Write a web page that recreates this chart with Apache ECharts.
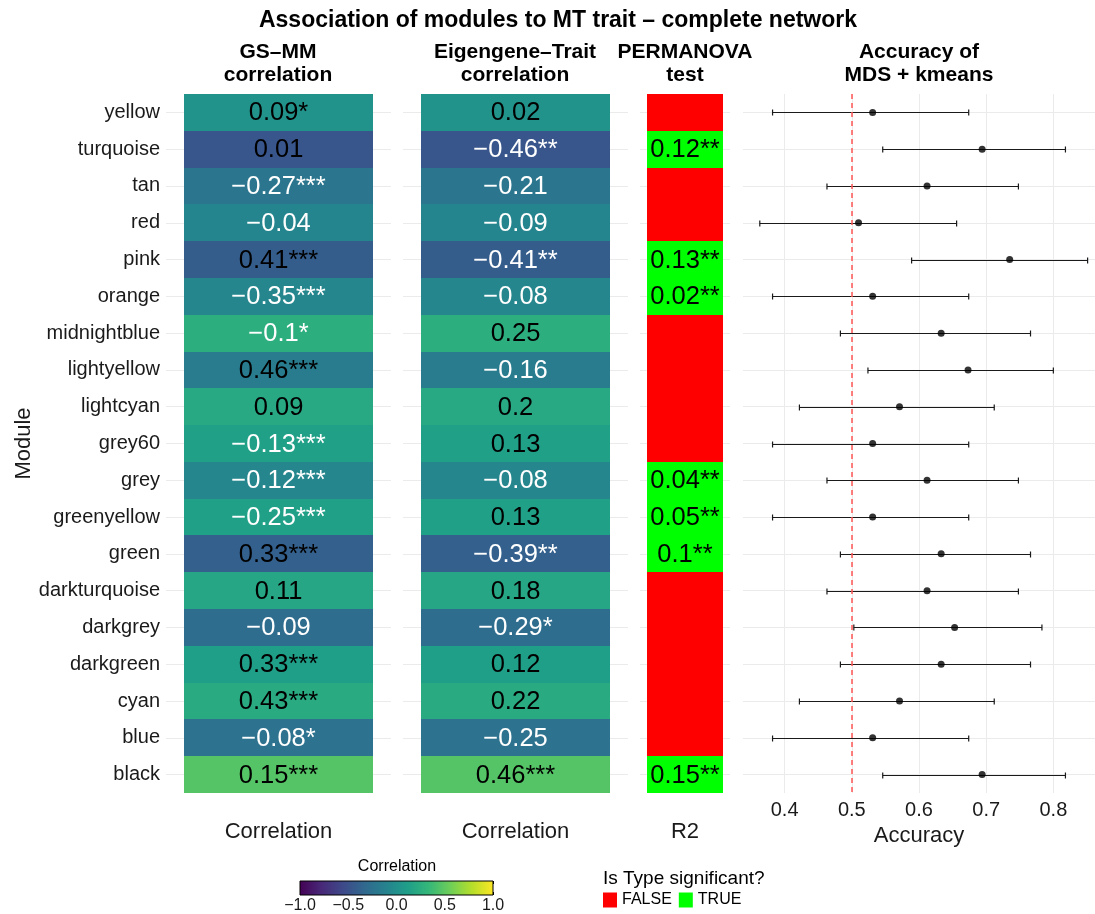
<!DOCTYPE html>
<html>
<head>
<meta charset="utf-8">
<title>Association of modules to MT trait</title>
<script src="https://cdn.jsdelivr.net/npm/echarts@6/dist/echarts.min.js"></script>
<style>
	html, body { margin: 0; padding: 0; background: #fff; }
	#chart { width: 1095px; height: 914px; }
</style>
</head>
<body>
<div id="chart"></div>
<script>
// 数据 (top row first)
var modules = ['yellow', 'turquoise', 'tan', 'red', 'pink', 'orange', 'midnightblue', 'lightyellow', 'lightcyan', 'grey60', 'grey', 'greenyellow', 'green', 'darkturquoise', 'darkgrey', 'darkgreen', 'cyan', 'blue', 'black']
var gsmmCor = [0.09, 0.01, -0.27, -0.04, 0.41, -0.35, -0.1, 0.46, 0.09, -0.13, -0.12, -0.25, 0.33, 0.11, -0.09, 0.33, 0.43, -0.08, 0.15]
var gsmmStars = ['*', '', '***', '', '***', '***', '*', '***', '', '***', '***', '***', '***', '', '', '***', '***', '*', '***']
var etCor = [0.02, -0.46, -0.21, -0.09, -0.41, -0.08, 0.25, -0.16, 0.2, 0.13, -0.08, 0.13, -0.39, 0.18, -0.29, 0.12, 0.22, -0.25, 0.46]
var etStars = ['', '**', '', '', '**', '', '', '', '', '', '', '', '**', '', '*', '', '', '', '***']
var permSig = [false, true, false, false, true, true, false, false, false, false, true, true, true, false, false, false, false, false, true]
var permR2 = [null, 0.12, null, null, 0.13, 0.02, null, null, null, null, 0.04, 0.05, 0.1, null, null, null, null, null, 0.15]
var permStars = ['', '**', '', '', '**', '**', '', '', '', '', '**', '**', '**', '', '', '', '', '', '**']
var accMean = [0.531, 0.694, 0.612, 0.510, 0.735, 0.531, 0.633, 0.673, 0.571, 0.531, 0.612, 0.531, 0.633, 0.612, 0.653, 0.633, 0.571, 0.531, 0.694]
var accLow = [0.382, 0.546, 0.463, 0.363, 0.589, 0.382, 0.483, 0.524, 0.422, 0.382, 0.463, 0.382, 0.483, 0.463, 0.503, 0.483, 0.422, 0.382, 0.546]
var accHigh = [0.674, 0.818, 0.748, 0.656, 0.851, 0.674, 0.766, 0.800, 0.712, 0.674, 0.748, 0.674, 0.766, 0.748, 0.783, 0.766, 0.712, 0.674, 0.818]
var chanceLevel = 0.5
var corRange = [-1, 1]
var sigLevels = ['FALSE', 'TRUE']

var FONT = '"Liberation Sans", Arial, Helvetica, sans-serif'
var viridis = ['#440154', '#482878', '#3e4989', '#31688e', '#26828e', '#1f9e89', '#35b779', '#6ece58', '#b5de2b', '#fde725']
var GRID_TOP = 94, GRID_H = 699

function fmt(v) {
	return (v < 0 ? '\u2212' : '') + Math.abs(v)
}

// integer-edged tile so neighbours meet without seams
function tileRect(api, fill) {
	var c = api.coord([api.value(0), api.value(1)])
	var band = api.size([1, 1])
	var w = band[0] * 0.84
	var x0 = Math.round(c[0] - w / 2), x1 = Math.round(c[0] + w / 2)
	var y0 = Math.round(c[1] - band[1] / 2), y1 = Math.round(c[1] + band[1] / 2)
	return {
		center: c,
		el: { type: 'rect', shape: { x: x0, y: y0, width: x1 - x0, height: y1 - y0 }, style: { fill: fill } }
	}
}

function tileText(c, text, color) {
	return {
		type: 'text',
		style: {
			x: c[0], y: c[1] + 1, text: text, fill: color,
			font: '25.5px ' + FONT, align: 'center', verticalAlign: 'middle'
		}
	}
}

function corRenderer(values, stars) {
	return function (params, api) {
		var i = params.dataIndex
		var t = tileRect(api, api.visual('color'))
		var v = values[i]
		return { type: 'group', children: [t.el, tileText(t.center, fmt(v) + stars[i], v < 0 ? '#fff' : '#000')] }
	}
}

function catY(idx, showLabels) {
	return {
		type: 'category', gridIndex: idx, data: modules, inverse: true,
		axisLine: { show: false }, axisTick: { show: false },
		axisLabel: { show: showLabels, fontSize: 20, color: '#1a1a1a', fontFamily: FONT, margin: 6 },
		splitLine: { show: true, alignWithLabel: true, lineStyle: { color: '#ebebeb', width: 1 } }
	}
}

function catX(idx, name) {
	return {
		type: 'category', gridIndex: idx, data: [name],
		axisLine: { show: false }, axisTick: { show: false }, axisLabel: { show: false },
		splitLine: { show: false },
		name: name, nameLocation: 'middle', nameGap: 28,
		nameTextStyle: { fontSize: 22, color: '#1a1a1a', fontFamily: FONT }
	}
}

var panelTitle = { fontSize: 21, fontWeight: 'bold', color: '#000', fontFamily: FONT, lineHeight: 23 }

var option = {
	animation: false,
	backgroundColor: '#fff',
	title: [
		{ text: 'Association of modules to MT trait \u2013 complete network', left: 558, top: 9, padding: 0, textAlign: 'center', textStyle: { fontSize: 23, fontWeight: 'bold', color: '#000', fontFamily: FONT } },
		{ text: 'GS\u2013MM\ncorrelation', left: 278, top: 41, padding: 0, textAlign: 'center', textStyle: panelTitle },
		{ text: 'Eigengene\u2013Trait\ncorrelation', left: 515, top: 41, padding: 0, textAlign: 'center', textStyle: panelTitle },
		{ text: 'PERMANOVA\ntest', left: 685, top: 41, padding: 0, textAlign: 'center', textStyle: panelTitle },
		{ text: 'Accuracy of\nMDS + kmeans', left: 919, top: 41, padding: 0, textAlign: 'center', textStyle: panelTitle },
		{ text: 'Correlation', left: 397, top: 859, padding: 0, textAlign: 'center', textStyle: { fontSize: 16, fontWeight: 'normal', color: '#000', fontFamily: FONT } },
		{ text: 'Is Type significant?', left: 603, top: 869, padding: 0, textStyle: { fontSize: 19, fontWeight: 'normal', color: '#000', fontFamily: FONT } }
	],
	legend: {
		data: sigLevels, left: 603, top: 892, padding: 0,
		icon: 'rect', itemWidth: 14, itemHeight: 15, itemGap: 7,
		textStyle: { fontSize: 16, color: '#000', fontFamily: FONT },
		selectedMode: false
	},
	visualMap: {
		type: 'continuous', show: false, min: corRange[0], max: corRange[1],
		dimension: 2, seriesIndex: [0, 1],
		inRange: { color: viridis }
	},
	grid: [
		{ left: 166, top: GRID_TOP, width: 225, height: GRID_H },
		{ left: 403, top: GRID_TOP, width: 225, height: GRID_H },
		{ left: 640, top: GRID_TOP, width: 90, height: GRID_H },
		{ left: 743, top: GRID_TOP, width: 352, height: GRID_H },
		{ left: 300, top: 881, width: 193, height: 16 }
	],
	xAxis: [
		catX(0, 'Correlation'),
		catX(1, 'Correlation'),
		catX(2, 'R2'),
		{
			type: 'value', gridIndex: 3, min: 0.338, max: 0.862,
			axisLine: { show: false }, axisTick: { show: false },
			axisLabel: {
				fontSize: 20, color: '#1a1a1a', fontFamily: FONT, margin: 7,
				showMinLabel: false, showMaxLabel: false,
				formatter: function (v) {
					var t = Math.round(v * 100)
					return (t % 10 === 0) ? (t / 100).toFixed(1) : ''
				}
			},
			splitLine: { show: true, showMinLine: false, showMaxLine: false, lineStyle: { color: '#ebebeb', width: 1 } },
			name: 'Accuracy', nameLocation: 'middle', nameGap: 28,
			nameTextStyle: { fontSize: 22, color: '#1a1a1a', fontFamily: FONT }
		},
		{
			type: 'value', gridIndex: 4, min: corRange[0], max: corRange[1], interval: 0.5,
			axisLine: { show: false },
			axisTick: { show: true, inside: true, length: 3, lineStyle: { color: '#000' } },
			axisLabel: { fontSize: 16, color: '#1a1a1a', fontFamily: FONT, margin: 3, formatter: function (v) { return (v < 0 ? '\u2212' : '') + Math.abs(v).toFixed(1) } },
			splitLine: { show: false }
		},
		{
			type: 'value', gridIndex: 4, position: 'top', min: corRange[0], max: corRange[1], interval: 0.5,
			axisLine: { show: false },
			axisTick: { show: true, inside: true, length: 3, lineStyle: { color: '#000' } },
			axisLabel: { show: false }, splitLine: { show: false }
		}
	],
	yAxis: [
		Object.assign(catY(0, true), {
			name: 'Module', nameLocation: 'middle', nameRotate: 90, nameGap: 131,
			nameTextStyle: { fontSize: 22, color: '#1a1a1a', fontFamily: FONT }
		}),
		catY(1, false),
		catY(2, false),
		catY(3, false),
		{ type: 'value', gridIndex: 4, min: 0, max: 1, show: false }
	],
	series: [
		{
			// GS-MM column, filled by eigengene-trait correlation
			type: 'custom', xAxisIndex: 0, yAxisIndex: 0,
			renderItem: corRenderer(gsmmCor, gsmmStars),
			data: modules.map(function (m, i) { return [0, i, etCor[i]] })
		},
		{
			type: 'custom', xAxisIndex: 1, yAxisIndex: 1,
			renderItem: corRenderer(etCor, etStars),
			data: modules.map(function (m, i) { return [0, i, etCor[i]] })
		},
		{
			name: 'FALSE', type: 'custom', xAxisIndex: 2, yAxisIndex: 2,
			itemStyle: { color: '#ff0000' },
			renderItem: function (params, api) {
				return tileRect(api, '#ff0000').el
			},
			data: modules.map(function (m, i) { return permSig[i] ? null : [0, i] }).filter(function (d) { return d })
		},
		{
			name: 'TRUE', type: 'custom', xAxisIndex: 2, yAxisIndex: 2,
			itemStyle: { color: '#00ff00' },
			renderItem: function (params, api) {
				var i = api.value(1)
				var t = tileRect(api, '#00ff00')
				return { type: 'group', children: [t.el, tileText(t.center, fmt(permR2[i]) + permStars[i], '#000')] }
			},
			data: modules.map(function (m, i) { return permSig[i] ? [0, i] : null }).filter(function (d) { return d })
		},
		{
			// error bars
			type: 'custom', xAxisIndex: 3, yAxisIndex: 3,
			renderItem: function (params, api) {
				var lo = api.coord([api.value(0), api.value(1)])
				var hi = api.coord([api.value(2), api.value(1)])
				var y = Math.round(lo[1]) + 0.5
				var cap = 3
				var st = { stroke: '#1a1a1a', lineWidth: 1.2 }
				return {
					type: 'group', children: [
						{ type: 'line', shape: { x1: lo[0], y1: y, x2: hi[0], y2: y }, style: st },
						{ type: 'line', shape: { x1: lo[0], y1: y - cap, x2: lo[0], y2: y + cap }, style: st },
						{ type: 'line', shape: { x1: hi[0], y1: y - cap, x2: hi[0], y2: y + cap }, style: st }
					]
				}
			},
			data: modules.map(function (m, i) { return [accLow[i], i, accHigh[i]] })
		},
		{
			type: 'scatter', xAxisIndex: 3, yAxisIndex: 3,
			symbolSize: 7, itemStyle: { color: '#000' }, z: 3,
			data: modules.map(function (m, i) { return [accMean[i], i] }),
			markLine: {
				silent: true, symbol: 'none', label: { show: false },
				lineStyle: { color: '#ff5555', type: [5, 4], width: 1.5 },
				data: [{ xAxis: chanceLevel }]
			}
		},
		{
			// colour bar for the correlation scale
			type: 'custom', xAxisIndex: 4, yAxisIndex: 4, silent: true, z: 1,
			renderItem: function (params, api) {
				var p0 = api.coord([api.value(0), 1])
				var p1 = api.coord([api.value(1), 0])
				var stops = viridis.map(function (c, k) { return { offset: k / (viridis.length - 1), color: c } })
				return {
					type: 'rect',
					shape: { x: p0[0], y: p0[1], width: p1[0] - p0[0], height: p1[1] - p0[1] },
					style: { fill: new echarts.graphic.LinearGradient(0, 0, 1, 0, stops), stroke: '#000', lineWidth: 1 }
				}
			},
			data: [corRange]
		}
	]
}

var myChart = echarts.init(document.getElementById('chart'))
myChart.setOption(option)
</script>
</body>
</html>
